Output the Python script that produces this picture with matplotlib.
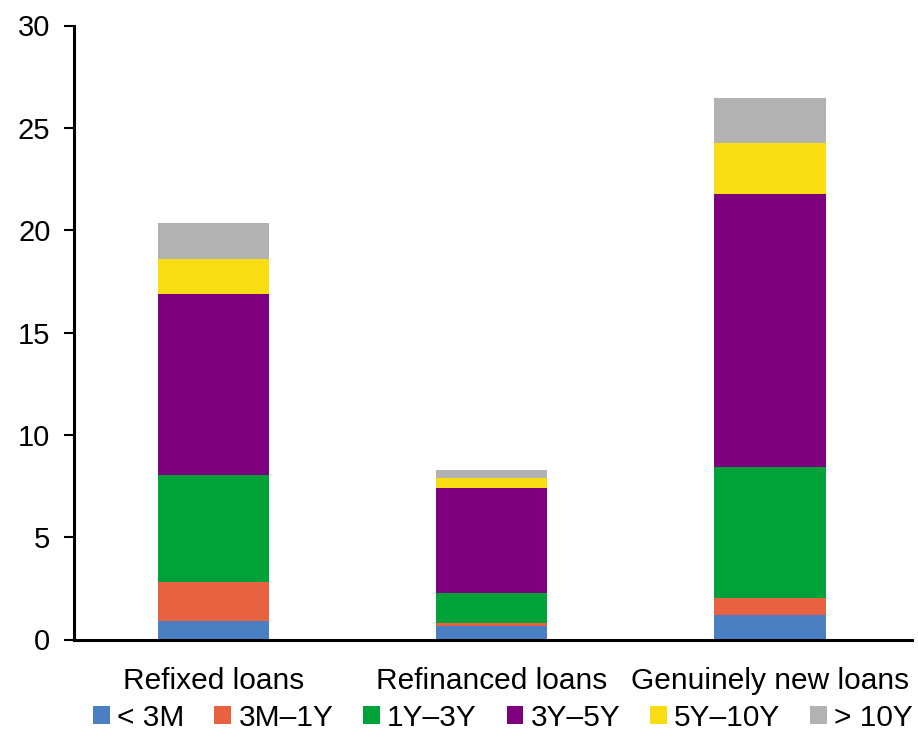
import matplotlib
matplotlib.use("Agg")
import matplotlib.pyplot as plt
from matplotlib.patches import Patch
import numpy as np

plt.rcParams['font.family'] = ['Liberation Sans', 'DejaVu Sans']

categories = ["Refixed loans", "Refinanced loans", "Genuinely new loans"]
series_names = ["< 3M", "3M\u20131Y", "1Y\u20133Y", "3Y\u20135Y", "5Y\u201310Y", "> 10Y"]
lt_3m = [0.92, 0.67, 1.18]
m3_1y = [1.87, 0.14, 0.84]
y1_3y = [5.26, 1.46, 6.39]
y3_5y = [8.83, 5.15, 13.38]
y5_10y = [1.72, 0.48, 2.47]
gt_10y = [1.73, 0.38, 2.22]
y_ticks = [0, 5, 10, 15, 20, 25, 30]

series = [lt_3m, m3_1y, y1_3y, y3_5y, y5_10y, gt_10y]
colors = ["#4a7fc1", "#e86242", "#00a33a", "#7e007e", "#f8dd13", "#b2b2b2"]

fig = plt.figure(figsize=(9.18, 7.41), dpi=100)
ax = fig.add_axes([74 / 918, 1 - 639.5 / 741, (912 - 74) / 918, (639.5 - 25.5) / 741])

x = np.arange(len(categories))
bottom = np.zeros(len(categories))
for vals, col in zip(series, colors):
    ax.bar(x, vals, width=0.4, bottom=bottom, color=col, edgecolor="none")
    bottom += np.array(vals)

ax.set_xlim(-0.5, 2.51)
ax.set_ylim(0, 30)
ax.set_yticks(y_ticks)
ax.set_xticks(x)
ax.set_xticklabels(categories, fontsize=21.5)
ax.tick_params(axis="y", labelsize=21, length=7, width=1.5, direction="out", pad=10)
ax.tick_params(axis="x", length=0, pad=20)
for s in ["top", "right"]:
    ax.spines[s].set_visible(False)
ax.spines["left"].set_linewidth(2.2)
ax.spines["bottom"].set_linewidth(2.2)

handles = [Patch(facecolor=c, edgecolor="none") for c in colors]
fig.legend(handles, series_names, loc="center", bbox_to_anchor=(0.548, 1 - 718 / 741),
           ncol=6, frameon=False, fontsize=21.5, handlelength=0.55, handleheight=0.55,
           handletextpad=0.25, columnspacing=1.0, borderaxespad=0, borderpad=0)

fig.savefig("out.png", dpi=100)
